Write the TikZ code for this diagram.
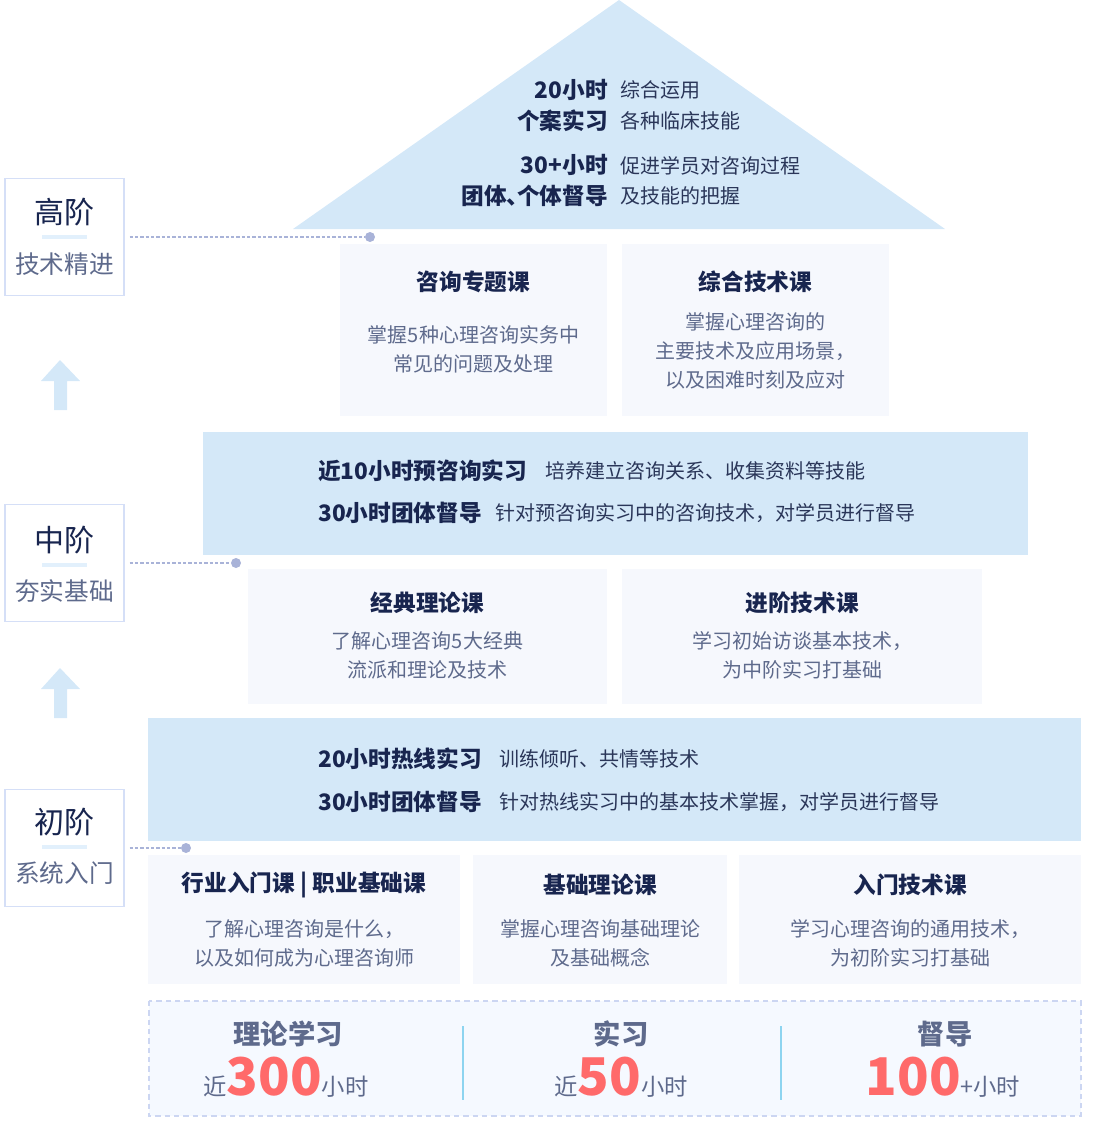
\documentclass[tikz,border=0pt]{standalone}
\usepackage{fontspec}
\setmainfont{Noto Sans CJK SC}
\usetikzlibrary{positioning}

\definecolor{bleu}{HTML}{D4E8F8}
\definecolor{carte}{HTML}{F6F8FD}
\definecolor{encre}{HTML}{18254F}
\definecolor{encredeux}{HTML}{2A3659}
\definecolor{gris}{HTML}{5E6A8C}
\definecolor{rouge}{HTML}{FF6A6A}
\definecolor{pointille}{HTML}{A9B3D8}
\definecolor{cadre}{HTML}{D5DFF7}
\definecolor{souligne}{HTML}{E2F0FC}
\definecolor{fondbas}{HTML}{F5F9FF}
\definecolor{tiret}{HTML}{CCD6F2}
\definecolor{separe}{HTML}{8DD4F0}

\newcommand{\gros}{\bfseries\fontsize{39}{39}\selectfont}

\tikzset{
  etiq/.style={draw=cadre, line width=1.1pt, fill=white, minimum width=89.25pt, minimum height=87.75pt},
  niveau/.style={font=\fontsize{22.5}{26}\selectfont, text=encre, inner sep=0pt},
  sousniveau/.style={font=\fontsize{18.5}{22}\selectfont, text=gris, inner sep=0pt},
  point/.style={circle, fill=pointille, inner sep=0pt, minimum size=7.5pt},
  liaison/.style={pointille, line width=0.8pt, dash pattern=on 2.5pt off 1.5pt, shorten <=3.75pt},
  titre/.style={font=\bfseries\fontsize{17}{20}\selectfont, text=encre, inner sep=0pt},
  desc/.style={font=\fontsize{15}{21.75}\selectfont, text=gris, align=center, inner sep=0pt},
  fort/.style={font=\bfseries\fontsize{17}{20}\selectfont, text=encre, inner sep=0pt},
  texte/.style={font=\fontsize{15}{20}\selectfont, text=encredeux, inner sep=0pt},
  bilan/.style={font=\bfseries\fontsize{20.5}{24}\selectfont, text=gris, inner sep=0pt},
  heures/.style={font=\fontsize{17.5}{20}\selectfont, text=gris, inner sep=0pt, anchor=base}
}

\begin{document}
\begin{tikzpicture}[x=0.75pt, y=-0.75pt]
  \useasboundingbox (0,0) rectangle (1092,1138);

  % Toit
  \fill[bleu] (619,0) -- (945,229) -- (293,229) -- cycle;
  \node[fort, anchor=east] (h1) at (608,90) {20小时};
  \node[fort, anchor=east] (h2) at (608,121) {个案实习};
  \node[fort, anchor=east] (h3) at (608,165) {30+小时};
  \node[fort, anchor=east] (h4) at (608,196) {团体、\kern-0.55em个体督导};
  \node[texte, anchor=west] (t1) at (620,90) {综合运用};
  \node[texte, anchor=west] (t2) at (620,121) {各种临床技能};
  \node[texte, anchor=west] (t3) at (620,166) {促进学员对咨询过程};
  \node[texte, anchor=west] (t4) at (620,196) {及技能的把握};

  % Cours du haut
  \fill[carte] (340,244) rectangle (607,416);
  \fill[carte] (622,244) rectangle (889,416);
  \node[titre] (c1) at (473.5,282) {咨询专题课};
  \node[desc] (e1) at (473.5,349) {掌握5种心理咨询实务中\\常见的问题及处理};
  \node[titre] (c2) at (755.5,282) {综合技术课};
  \node[desc] (e2) at (755.5,351) {掌握心理咨询的\\主要技术及应用场景，\\以及困难时刻及应对};

  % Bande du milieu
  \fill[bleu] (203,432) rectangle (1028,555);
  \node[fort, anchor=west] (m1) at (318,471) {近10小时预咨询实习};
  \node[texte, anchor=west] (n1) at (545,471) {培养建立咨询关系、收集资料等技能};
  \node[fort, anchor=west] (m2) at (318,513) {30小时团体督导};
  \node[texte, anchor=west] (n2) at (495,513) {针对预咨询实习中的咨询技术，对学员进行督导};

  % Cours du milieu
  \fill[carte] (248,569) rectangle (607,704);
  \fill[carte] (622,569) rectangle (982,704);
  \node[titre] (c3) at (427.5,603) {经典理论课};
  \node[desc] (e3) at (427.5,655.5) {了解心理咨询5大经典\\流派和理论及技术};
  \node[titre] (c4) at (802,603) {进阶技术课};
  \node[desc] (e4) at (802,655.5) {学习初始访谈基本技术，\\为中阶实习打基础};

  % Bande du bas
  \fill[bleu] (148,718) rectangle (1081,841);
  \node[fort, anchor=west] (m3) at (318,759) {20小时热线实习};
  \node[texte, anchor=west] (n3) at (499,759) {训练倾听、共情等技术};
  \node[fort, anchor=west] (m4) at (318,802) {30小时团体督导};
  \node[texte, anchor=west] (n4) at (499,802) {针对热线实习中的基本技术掌握，对学员进行督导};

  % Cours du bas
  \fill[carte] (148,855) rectangle (460,984);
  \fill[carte] (473,855) rectangle (727,984);
  \fill[carte] (739,855) rectangle (1081,984);
  \node[titre] (c5) at (304,885) {行业入门课 | 职业基础课};
  \node[desc] (e5) at (304,943.5) {了解心理咨询是什么，\\以及如何成为心理咨询师};
  \node[titre] (c6) at (600,885) {基础理论课};
  \node[desc] (e6) at (600,943.5) {掌握心理咨询基础理论\\及基础概念};
  \node[titre] (c7) at (910,885) {入门技术课};
  \node[desc] (e7) at (910,943.5) {学习心理咨询的通用技术，\\为初阶实习打基础};

  % Bilan des heures
  \draw[tiret, fill=fondbas, line width=1.1pt, dash pattern=on 4pt off 3pt] (149,1001) rectangle (1081,1116);
  \draw[separe, line width=1.1pt] (463,1026) -- (463,1100);
  \draw[separe, line width=1.1pt] (781,1026) -- (781,1100);
  \node[bilan] (b1) at (288,1034) {理论学习};
  \node[heures] (v1) at (286,1095) {近{\color{rouge}\gros 300}小时};
  \node[bilan] (b2) at (621,1034) {实习};
  \node[heures] (v2) at (621,1095) {近{\color{rouge}\gros 50}小时};
  \node[bilan] (b3) at (945,1034) {督导};
  \node[heures] (v3) at (943,1095) {{\color{rouge}\gros 100}+小时};

  % Niveaux
  \node[etiq] (haut) at (64.5,237) {};
  \node[niveau] (haut-t) at (64.5,212) {高阶};
  \draw[souligne, line width=3pt] (42,237) -- (87,237);
  \node[sousniveau] (haut-s) at (64.5,264) {技术精进};
  \node[point] (p1) at (370,237) {};
  \draw[liaison] (haut) -- (p1);

  \node[etiq] (milieu) at (64.5,563) {};
  \node[niveau] (milieu-t) at (64.5,540) {中阶};
  \draw[souligne, line width=3pt] (42,565) -- (87,565);
  \node[sousniveau] (milieu-s) at (64.5,591) {夯实基础};
  \node[point] (p2) at (236,563) {};
  \draw[liaison] (milieu) -- (p2);

  \node[etiq] (bas) at (64.5,848) {};
  \node[niveau] (bas-t) at (64.5,822) {初阶};
  \draw[souligne, line width=3pt] (42,847) -- (87,847);
  \node[sousniveau] (bas-s) at (64.5,873) {系统入门};
  \node[point] (p3) at (186,848) {};
  \draw[liaison] (bas) -- (p3);

  % Flèches
  \fill[bleu] (41,381) -- (60,360) -- (80,381) -- (67,381) -- (67,410) -- (54,410) -- (54,381) -- cycle;
  \fill[bleu] (41,689) -- (60,668) -- (80,689) -- (67,689) -- (67,718) -- (54,718) -- (54,689) -- cycle;
\end{tikzpicture}
\end{document}
